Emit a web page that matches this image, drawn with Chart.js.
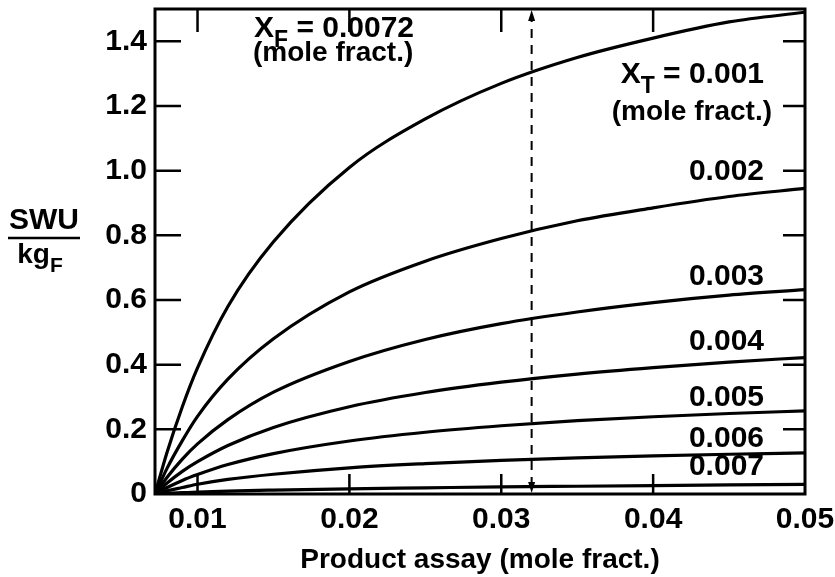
<!DOCTYPE html>
<html lang="en">
<head>
  <meta charset="UTF-8">
  <title>Separative work per kg of feed vs product assay</title>
  <script src="https://cdn.jsdelivr.net/npm/chart.js"></script>
  <style>
    body {
      margin: 0;
      background: #fff;
    }
    #wrap {
      width: 835px;
      height: 577px;
    }
  </style>
</head>
<body>
  <div id="wrap">
    <canvas id="swuChart" width="835" height="577"></canvas>
  </div>

  <script>
    // Product assay (mole fraction) where the curves are read
    const assay = [0.0072, 0.008, 0.009, 0.01, 0.012, 0.015, 0.02, 0.025, 0.03, 0.035, 0.04, 0.045, 0.05];

    // SWU per kg of feed, one array per tails assay
    const swu001 = [0, 0.13, 0.27, 0.39, 0.58, 0.78, 1.01, 1.16, 1.27, 1.35, 1.41, 1.46, 1.49];
    const swu002 = [0, 0.08, 0.165, 0.24, 0.355, 0.48, 0.625, 0.72, 0.79, 0.845, 0.885, 0.92, 0.945];
    const swu003 = [0, 0.052, 0.108, 0.155, 0.23, 0.315, 0.41, 0.478, 0.527, 0.563, 0.592, 0.615, 0.632];
    const swu004 = [0, 0.034, 0.07, 0.10, 0.15, 0.206, 0.27, 0.314, 0.346, 0.371, 0.391, 0.408, 0.422];
    const swu005 = [0, 0.02, 0.042, 0.06, 0.091, 0.125, 0.164, 0.191, 0.211, 0.227, 0.239, 0.249, 0.257];
    const swu006 = [0, 0.01, 0.02, 0.03, 0.045, 0.061, 0.081, 0.094, 0.104, 0.112, 0.118, 0.123, 0.127];
    const swu007 = [0, 0.002, 0.004, 0.006, 0.009, 0.012, 0.016, 0.019, 0.022, 0.024, 0.026, 0.028, 0.03];

    const tailsLabels = ['0.001', '0.002', '0.003', '0.004', '0.005', '0.006', '0.007'];
    const seriesList = [swu001, swu002, swu003, swu004, swu005, swu006, swu007];

    // where each curve label sits (value units)
    const labelAssay = 0.0473;
    const labelLevel = [1.296, 0.996, 0.671, 0.470, 0.297, 0.170, 0.0835];

    // axis ticks
    const xTicks = [0.01, 0.02, 0.03, 0.04, 0.05];
    const yTicks = [0, 0.2, 0.4, 0.6, 0.8, 1.0, 1.2, 1.4];

    const feedAssay = 0.0072;
    const markerAssay = 0.032; // dashed vertical line

    const FONT = '"Liberation Sans", Arial, sans-serif';

    // helper: text with a subscript after the first part
    function subText(ctx, main, sub, rest, x, y, size, align) {
      const subSize = Math.round(size * 0.75);
      ctx.font = 'bold ' + size + 'px ' + FONT;
      const wMain = ctx.measureText(main).width;
      ctx.font = 'bold ' + subSize + 'px ' + FONT;
      const wSub = ctx.measureText(sub).width;
      ctx.font = 'bold ' + size + 'px ' + FONT;
      const wRest = ctx.measureText(rest).width;
      const total = wMain + wSub + wRest;
      let x0 = x;
      if (align === 'right') x0 = x - total;
      if (align === 'center') x0 = x - total / 2;
      ctx.textAlign = 'left';
      ctx.textBaseline = 'middle';
      ctx.fillText(main, x0, y);
      ctx.font = 'bold ' + subSize + 'px ' + FONT;
      ctx.fillText(sub, x0 + wMain, y + size * 0.4);
      ctx.font = 'bold ' + size + 'px ' + FONT;
      ctx.fillText(rest, x0 + wMain + wSub, y);
    }

    const framePlugin = {
      id: 'framePlugin',
      afterDraw(chart) {
        const ctx = chart.ctx;
        const area = chart.chartArea;
        const xs = chart.scales.x;
        const ys = chart.scales.y;
        ctx.save();
        ctx.strokeStyle = '#000';
        ctx.fillStyle = '#000';
        ctx.setLineDash([]);

        // frame
        ctx.lineWidth = 3;
        ctx.strokeRect(area.left, area.top, area.right - area.left, area.bottom - area.top);

        // inward ticks
        ctx.lineWidth = 2.5;
        yTicks.forEach(v => {
          if (v === 0) return;
          const py = ys.getPixelForValue(v);
          ctx.beginPath();
          ctx.moveTo(area.left, py);
          ctx.lineTo(area.left + 26, py);
          ctx.moveTo(area.right, py);
          ctx.lineTo(area.right - 22, py);
          ctx.stroke();
        });
        xTicks.forEach(v => {
          if (v >= 0.05) return;
          const px = xs.getPixelForValue(v);
          ctx.beginPath();
          ctx.moveTo(px, area.bottom);
          ctx.lineTo(px, area.bottom - 20);
          ctx.moveTo(px, area.top);
          ctx.lineTo(px, area.top + 23);
          ctx.stroke();
        });

        // dashed marker with arrowheads
        const mx = xs.getPixelForValue(markerAssay);
        ctx.lineWidth = 2;
        ctx.setLineDash([9, 7]);
        ctx.beginPath();
        ctx.moveTo(mx, area.bottom - 8);
        ctx.lineTo(mx, area.top + 8);
        ctx.stroke();
        ctx.setLineDash([]);
        ctx.beginPath();
        ctx.moveTo(mx, area.top + 1);
        ctx.lineTo(mx - 3.5, area.top + 12);
        ctx.lineTo(mx + 3.5, area.top + 12);
        ctx.closePath();
        ctx.fill();
        ctx.beginPath();
        ctx.moveTo(mx, area.bottom - 1);
        ctx.lineTo(mx - 3.5, area.bottom - 12);
        ctx.lineTo(mx + 3.5, area.bottom - 12);
        ctx.closePath();
        ctx.fill();

        // feed assay note
        subText(ctx, 'X', 'F', ' = ' + feedAssay, 254, 29, 30, 'left');
        ctx.font = 'bold 28px ' + FONT;
        ctx.textAlign = 'left';
        ctx.textBaseline = 'middle';
        ctx.fillText('(mole fract.)', 253, 53);

        // curve labels
        const lx = xs.getPixelForValue(labelAssay);
        tailsLabels.forEach((t, i) => {
          const ly = ys.getPixelForValue(labelLevel[i]);
          if (i === 0) {
            subText(ctx, 'X', 'T', ' = ' + t, lx, ly, 30, 'right');
            ctx.font = 'bold 28px ' + FONT;
            ctx.textAlign = 'right';
            ctx.textBaseline = 'middle';
            ctx.fillText('(mole fract.)', lx + 8, ly + 37);
          } else {
            ctx.font = 'bold 30px ' + FONT;
            ctx.textAlign = 'right';
            ctx.textBaseline = 'middle';
            ctx.fillText(t, lx, ly);
          }
        });

        // y axis title as a fraction
        ctx.font = 'bold 30px ' + FONT;
        ctx.textAlign = 'center';
        ctx.textBaseline = 'middle';
        ctx.fillText('SWU', 44, 221);
        ctx.lineWidth = 2.5;
        ctx.beginPath();
        ctx.moveTo(8, 238);
        ctx.lineTo(80, 238);
        ctx.stroke();
        subText(ctx, 'kg', 'F', '', 40, 255, 28, 'center');

        ctx.restore();
      }
    };

    const datasets = seriesList.map((s, i) => ({
      label: tailsLabels[i],
      data: assay.map((a, j) => ({ x: a, y: s[j] })),
      borderColor: '#000',
      borderWidth: 3.2,
      pointRadius: 0,
      fill: false,
      cubicInterpolationMode: 'monotone'
    }));

    new Chart(document.getElementById('swuChart').getContext('2d'), {
      type: 'line',
      data: { datasets: datasets },
      options: {
        responsive: false,
        animation: false,
        layout: { padding: { top: 9, right: 30, left: 0, bottom: 0 } },
        plugins: {
          legend: { display: false },
          tooltip: { enabled: false }
        },
        scales: {
          x: {
            type: 'linear',
            min: feedAssay,
            max: 0.05,
            afterBuildTicks: scale => { scale.ticks = xTicks.map(v => ({ value: v })); },
            afterFit: scale => {
              scale.height = 83;
              scale.paddingLeft = 0;
              scale.paddingRight = 0;
            },
            grid: { display: false, drawTicks: false },
            border: { display: false },
            ticks: {
              color: '#000',
              font: { family: FONT, size: 30, weight: 'bold' },
              padding: 8,
              maxRotation: 0,
              autoSkip: false,
              callback: v => String(v)
            },
            title: {
              display: true,
              text: 'Product assay (mole fract.)',
              color: '#000',
              font: { family: FONT, size: 28, weight: 'bold' },
              padding: { top: 2, bottom: 0 }
            }
          },
          y: {
            type: 'linear',
            min: 0,
            max: 1.5,
            afterBuildTicks: scale => { scale.ticks = yTicks.map(v => ({ value: v })); },
            afterFit: scale => {
              scale.width = 155;
              scale.paddingTop = 0;
              scale.paddingBottom = 0;
            },
            grid: { display: false, drawTicks: false },
            border: { display: false },
            ticks: {
              color: '#000',
              font: { family: FONT, size: 30, weight: 'bold' },
              padding: 8,
              callback: v => (v === 0 ? '0' : v.toFixed(1))
            }
          }
        }
      },
      plugins: [framePlugin]
    });
  </script>
</body>
</html>
